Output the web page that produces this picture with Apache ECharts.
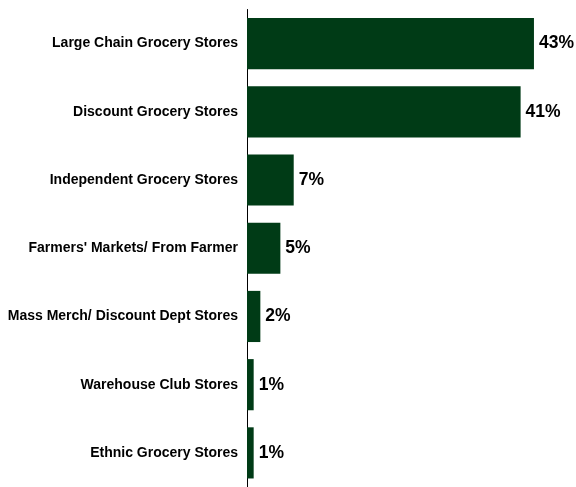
<!DOCTYPE html>
<html>
<head>
<meta charset="utf-8">
<style>
  html, body { margin: 0; padding: 0; background: #ffffff; }
  #chart { width: 576px; height: 487px; }
</style>
<script src="https://cdn.jsdelivr.net/npm/echarts@6/dist/echarts.min.js"></script>
</head>
<body>
<div id="chart"></div>
<script>
// Store types, listed top to bottom
const categories = [
  'Large Chain Grocery Stores',
  'Discount Grocery Stores',
  'Independent Grocery Stores',
  "Farmers' Markets/ From Farmer",
  'Mass Merch/ Discount Dept Stores',
  'Warehouse Club Stores',
  'Ethnic Grocery Stores'
];
// Share of shoppers (%)
const shares = [43, 41, 7, 5, 2, 1, 1];

const chart = echarts.init(document.getElementById('chart'), null, { renderer: 'canvas' });

chart.setOption({
  animation: false,
  grid: { left: 247, top: 9.5, width: 327, height: 483, containLabel: false },
  xAxis: {
    type: 'value',
    min: 0,
    max: 49,
    show: false
  },
  yAxis: {
    type: 'category',
    data: categories,
    inverse: true,
    axisLine: { show: true, lineStyle: { color: '#000000', width: 1 } },
    axisTick: { show: false },
    splitLine: { show: false },
    axisLabel: {
      margin: 9,
      color: '#000000',
      fontFamily: 'Liberation Sans, Arial, sans-serif',
      fontWeight: 'bold',
      fontSize: 14
    }
  },
  series: [{
    type: 'bar',
    data: shares,
    barCategoryGap: '25%',
    itemStyle: { color: '#003b16' },
    label: {
      show: true,
      position: 'right',
      distance: 5,
      formatter: p => p.value + '%',
      color: '#000000',
      fontFamily: 'Liberation Sans, Arial, sans-serif',
      fontWeight: 'bold',
      fontSize: 17.5
    }
  }]
});
</script>
</body>
</html>
